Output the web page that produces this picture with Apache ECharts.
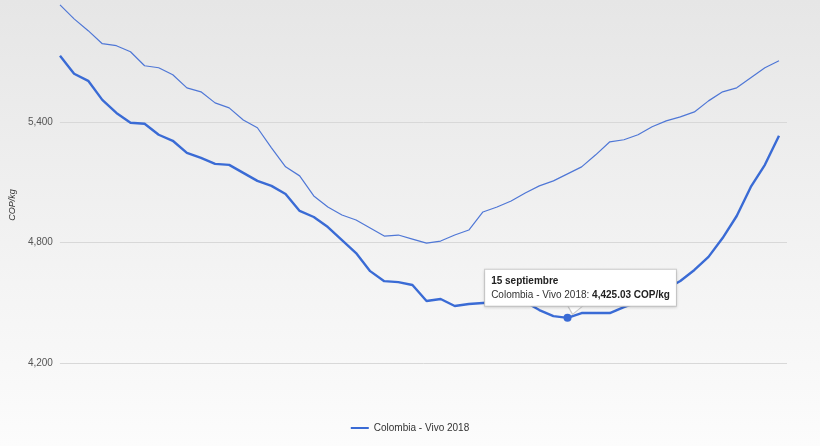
<!DOCTYPE html>
<html>
<head>
<meta charset="utf-8">
<script src="https://cdn.jsdelivr.net/npm/echarts@6/dist/echarts.min.js"></script>
<style>html,body{margin:0;padding:0;}#c{width:820px;height:446px;}</style>
</head>
<body>
<div id="c"></div>
<script>
var categories = [
  '6 enero','13 enero','20 enero','27 enero',
  '3 febrero','10 febrero','17 febrero','24 febrero',
  '3 marzo','10 marzo','17 marzo','24 marzo','31 marzo',
  '7 abril','14 abril','21 abril','28 abril',
  '5 mayo','12 mayo','19 mayo','26 mayo',
  '2 junio','9 junio','16 junio','23 junio','30 junio',
  '7 julio','14 julio','21 julio','28 julio',
  '4 agosto','11 agosto','18 agosto','25 agosto',
  '1 septiembre','8 septiembre','15 septiembre','22 septiembre','29 septiembre',
  '6 octubre','13 octubre','20 octubre','27 octubre',
  '3 noviembre','10 noviembre','17 noviembre','24 noviembre',
  '1 diciembre','8 diciembre','15 diciembre','22 diciembre','29 diciembre'
];
var vivo2018 = [
  5732,5642,5607,5512,5447,5398,5393,5338,5308,5248,
  5223,5193,5188,5148,5108,5083,5043,4958,4928,4878,
  4813,4748,4658,4608,4603,4589,4509,4519,4484,4494,
  4499,4504,4504,4504,4464,4434,4425.03,4449,4449,4449,
  4479,4504,4534,4569,4609,4664,4729,4823,4933,5078,
  5188,5333
];
var referenceLine = [
  5986,5916,5857,5792,5782,5752,5682,5672,5637,5572,
  5552,5497,5472,5412,5373,5273,5178,5133,5033,4978,
  4938,4913,4873,4833,4838,4818,4798,4808,4838,4863,
  4953,4978,5008,5048,5083,5108,5143,5178,5238,5303,
  5313,5338,5378,5407,5427,5452,5507,5552,5572,5622,
  5672,5707
];
var yTicks = [4200, 4800, 5400];
var seriesName = 'Colombia - Vivo 2018';
var unit = 'COP/kg';
var highlightIndex = 36;

var chart = echarts.init(document.getElementById('c'), null, {renderer: 'canvas'});
var hv = vivo2018[highlightIndex];
var hvText = hv.toLocaleString('en-US', {minimumFractionDigits: 2, maximumFractionDigits: 2});
var blue = '#3a6bd5';
var yMax = 5995;

chart.setOption({
  animation: false,
  backgroundColor: {
    type: 'linear', x: 0, y: 0, x2: 0, y2: 1,
    colorStops: [{offset: 0, color: '#e6e6e6'}, {offset: 1, color: '#fcfcfc'}]
  },
  textStyle: {fontFamily: 'Liberation Sans, Arial, sans-serif'},
  grid: [
    {left: 52, right: 33, top: 3, bottom: 83},
    {left: 60, right: 41, top: 3, bottom: 83}
  ],
  legend: {
    bottom: 8,
    left: 'center',
    data: [seriesName],
    icon: 'rect',
    itemWidth: 18,
    itemHeight: 2,
    itemGap: 8,
    textStyle: {fontSize: 10, color: '#333'}
  },
  xAxis: [
    {
      gridIndex: 0,
      type: 'value',
      min: 0,
      max: 1,
      show: false
    },
    {
      gridIndex: 1,
      type: 'category',
      data: categories,
      boundaryGap: false,
      axisLine: {show: false},
      axisTick: {show: false},
      axisLabel: {show: false},
      splitLine: {show: false}
    }
  ],
  yAxis: [
    {
      gridIndex: 0,
      type: 'value',
      min: yTicks[0],
      max: yMax,
      interval: yTicks[1] - yTicks[0],
      name: unit,
      nameLocation: 'middle',
      nameRotate: 90,
      nameGap: 41,
      nameTextStyle: {fontSize: 9, fontStyle: 'italic', color: '#333', padding: [0, 44, 0, 0]},
      axisLine: {show: false},
      axisTick: {show: false},
      axisLabel: {
        fontSize: 10, color: '#555', margin: 7, showMaxLabel: false,
        formatter: function (v) { return v.toLocaleString('en-US'); }
      },
      splitLine: {showMaxLine: false, lineStyle: {color: '#d8d8d8', width: 1}}
    },
    {
      gridIndex: 1,
      type: 'value',
      min: yTicks[0],
      max: yMax,
      interval: yTicks[1] - yTicks[0],
      show: false,
      splitLine: {show: false}
    }
  ],
  series: [
    {
      name: 'Colombia - Vivo 2017',
      type: 'line',
      xAxisIndex: 1,
      yAxisIndex: 1,
      data: referenceLine,
      symbol: 'none',
      lineStyle: {color: '#4f77d6', width: 1.2},
      itemStyle: {color: '#4f77d6'},
      z: 2
    },
    {
      name: seriesName,
      type: 'line',
      xAxisIndex: 1,
      yAxisIndex: 1,
      data: vivo2018,
      symbol: 'none',
      lineStyle: {color: blue, width: 2.4},
      itemStyle: {color: blue},
      z: 3,
      markPoint: {
        silent: true,
        data: [
          {
            coord: [highlightIndex, hv],
            symbol: 'path://M0,0L16,0L5,9Z',
            symbolSize: [16, 9],
            symbolOffset: [8, -8],
            itemStyle: {color: '#ffffff', borderColor: '#c8c8c8', borderWidth: 1},
            label: {show: false}
          },
          {
            coord: [highlightIndex, hv],
            symbol: 'circle',
            symbolSize: 8,
            itemStyle: {color: blue},
            label: {
              show: true,
              position: 'top',
              distance: 8,
              offset: [13, 0],
              backgroundColor: '#ffffff',
              borderColor: '#cccccc',
              borderWidth: 1,
              padding: [5, 6, 4, 6],
              shadowColor: 'rgba(0,0,0,0.12)',
              shadowBlur: 3,
              shadowOffsetY: 1,
              formatter: '{t|' + categories[highlightIndex] + '}\n{n|' + seriesName + ': }{v|' + hvText + ' ' + unit + '}',
              rich: {
                t: {fontSize: 10, fontWeight: 'bold', color: '#222', lineHeight: 13.5, align: 'left'},
                n: {fontSize: 10, color: '#333', lineHeight: 13.5, align: 'left'},
                v: {fontSize: 10, fontWeight: 'bold', color: '#222', lineHeight: 13.5, align: 'left'}
              }
            }
          }
        ]
      }
    }
  ]
});
</script>
</body>
</html>
